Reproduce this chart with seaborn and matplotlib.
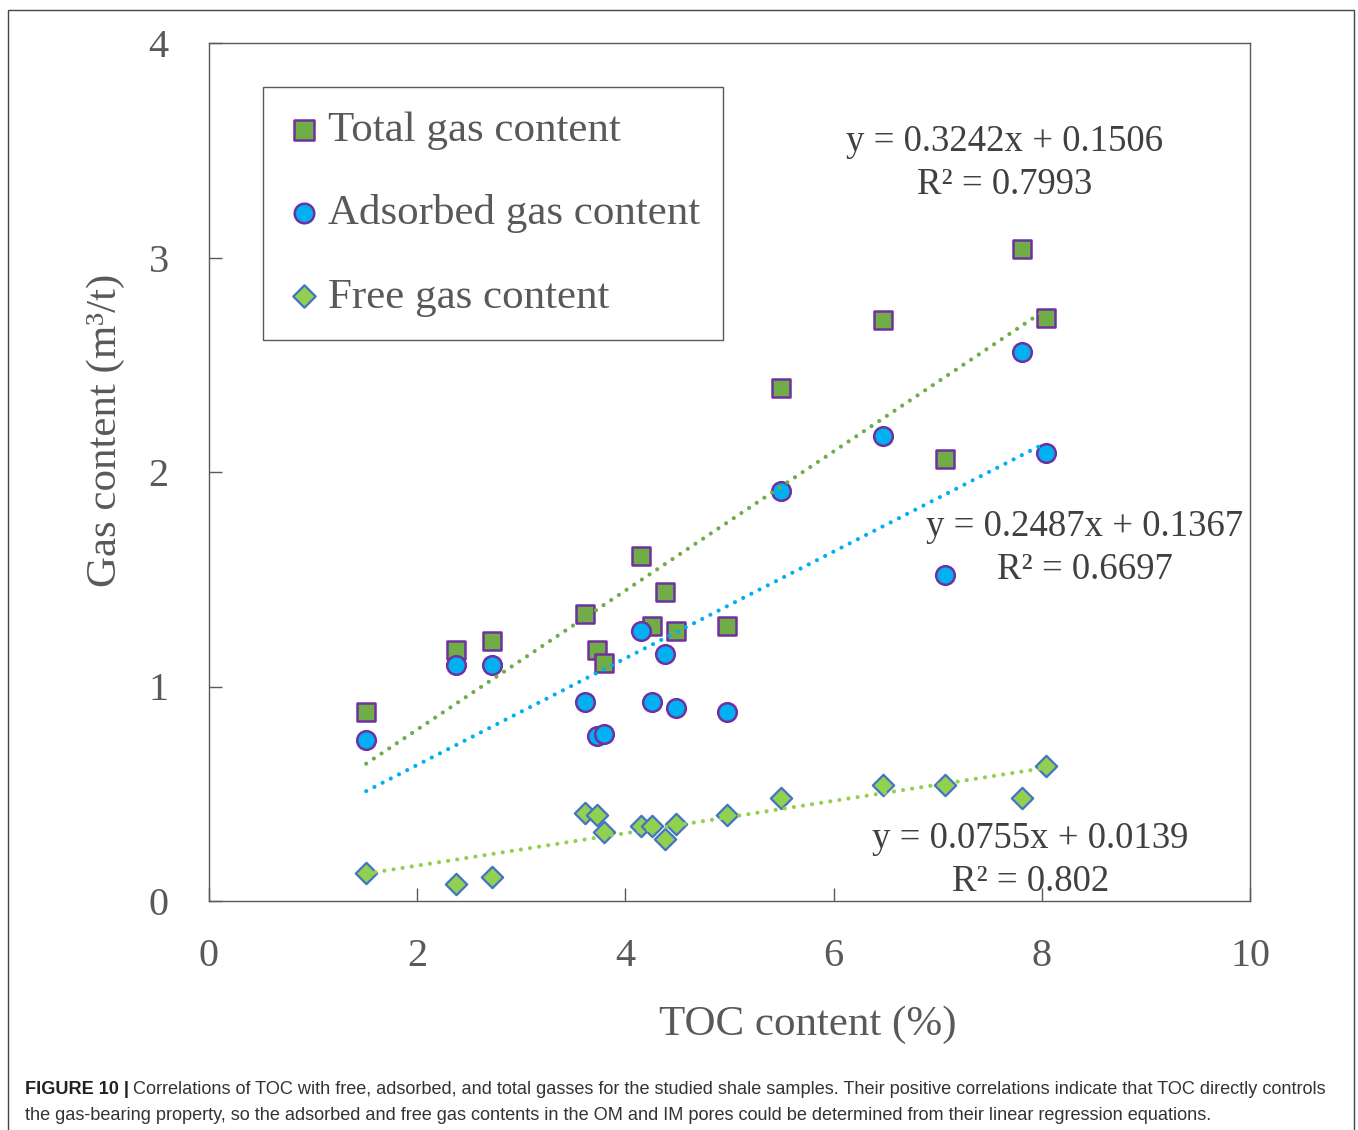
import numpy as np
import pandas as pd
import seaborn as sns
import matplotlib.pyplot as plt
from matplotlib.patches import Rectangle

# TOC (%) of the studied shale samples and their gas contents (m3/t)
toc = [1.51, 2.37, 2.72, 3.61, 3.73, 3.79, 4.15, 4.26, 4.38, 4.49, 4.98, 5.49, 6.47, 7.07, 7.81, 8.04]
total_gas = [0.88, 1.17, 1.21, 1.34, 1.17, 1.11, 1.61, 1.28, 1.44, 1.26, 1.28, 2.39, 2.71, 2.06, 3.04, 2.72]
adsorbed_gas = [0.75, 1.10, 1.10, 0.93, 0.77, 0.78, 1.26, 0.93, 1.15, 0.90, 0.88, 1.91, 2.17, 1.52, 2.56, 2.09]
free_gas = [0.13, 0.08, 0.11, 0.41, 0.40, 0.32, 0.35, 0.35, 0.29, 0.36, 0.40, 0.48, 0.54, 0.54, 0.48, 0.63]

series_names = ["Total gas content", "Adsorbed gas content", "Free gas content"]

# linear regression results for each series
slopes = [0.3242, 0.2487, 0.0755]
intercepts = [0.1506, 0.1367, 0.0139]
r_squared = ["0.7993", "0.6697", "0.802"]

x_ticks = [0, 2, 4, 6, 8, 10]
y_ticks = [0, 1, 2, 3, 4]

caption_head = "FIGURE 10 |"
caption_line1 = ("Correlations of TOC with free, adsorbed, and total gasses for the studied shale samples. "
                 "Their positive correlations indicate that TOC directly controls")
caption_line2 = ("the gas-bearing property, so the adsorbed and free gas contents in the OM and IM pores "
                 "could be determined from their linear regression equations.")

df = pd.DataFrame({"toc": toc, "total": total_gas, "adsorbed": adsorbed_gas, "free": free_gas})

sns.set_style("ticks")
plt.rcParams["font.family"] = ["Liberation Serif", "DejaVu Serif"]

W, H = 1358, 1130
fig = plt.figure(figsize=(W / 100, H / 100), dpi=100)
fig.patch.set_facecolor("white")
ax = fig.add_axes([209 / W, 1 - 901 / H, (1250 - 209) / W, (901 - 43) / H])

grey = "#595959"
text_grey = "#595959"

marker_styles = [
    dict(marker="s", s=170, color="#70AD47", edgecolor="#7030A0", linewidth=1.8),
    dict(marker="o", s=180, color="#00B0F0", edgecolor="#7030A0", linewidth=1.8),
    dict(marker="D", s=118, color="#92D050", edgecolor="#4472C4", linewidth=1.6),
]
line_colors = ["#70AD47", "#00B0F0", "#92D050"]

for col, name, st in zip(["total", "adsorbed", "free"], series_names, marker_styles):
    sns.scatterplot(data=df, x="toc", y=col, ax=ax, label=name, zorder=3, **st)

# dotted trendlines over the sampled TOC range
x_fit = np.array([min(toc), max(toc)])
for m, b, c in zip(slopes, intercepts, line_colors):
    sns.lineplot(x=x_fit, y=m * x_fit + b, ax=ax, color=c, lw=3.0,
                 linestyle=(0, (0.01, 2.2)), dash_capstyle="round",
                 zorder=4, legend=False)

# regression equations
eq_pos = [(7.64, 3.54, 3.34), (8.41, 1.745, 1.545), (7.89, 0.29, 0.09)]
for (xc, y1, y2), m, b, r2 in zip(eq_pos, slopes, intercepts, r_squared):
    ax.text(xc, y1, f"y = {m:.4f}x + {b:.4f}", ha="center", va="center",
            fontsize=26.5, color="#404040", zorder=5)
    ax.text(xc, y2, f"R² = {r2}", ha="center", va="center",
            fontsize=26.5, color="#404040", zorder=5)

ax.set_xlim(0, 10)
ax.set_ylim(0, 4)
ax.set_xticks(x_ticks)
ax.set_yticks(y_ticks)
ax.set_xticklabels([str(t) for t in x_ticks])
ax.set_yticklabels([str(t) for t in y_ticks])
ax.tick_params(direction="in", length=9.5, width=1.0, color=grey,
               labelsize=29, labelcolor=text_grey)
ax.tick_params(axis="x", pad=27)
ax.tick_params(axis="y", pad=29)
for sp in ax.spines.values():
    sp.set_visible(True)
    sp.set_color(grey)
    sp.set_linewidth(1.0)

ax.set_xlabel("TOC content (%)", fontsize=31, color=text_grey)
ax.xaxis.set_label_coords((808 - 209) / 1041, -0.122)
ax.set_ylabel("")
fig.text(106 / W, 1 - 430 / H, "Gas content (m³/t)", rotation=90, ha="center", va="center",
         fontsize=31, color=text_grey)

leg = ax.legend(loc="upper left", bbox_to_anchor=((263 - 209) / 1041, (901 - 87) / 858),
                borderaxespad=0, frameon=True, fancybox=False, framealpha=1,
                fontsize=31, handletextpad=0.15, handlelength=0.8, labelspacing=1.03,
                borderpad=0.55, markerscale=1.05, edgecolor=grey)
leg.get_frame().set_linewidth(1.0)
for t in leg.get_texts():
    t.set_color(text_grey)

# caption
cap_font = ["Liberation Sans", "DejaVu Sans"]
head = fig.text(25 / W, 1 - 1090 / H, caption_head, fontsize=12, fontweight="bold",
                family=cap_font, color="#222222", va="center", ha="left")
fig.canvas.draw()
r = fig.canvas.get_renderer()
hw = head.get_window_extent(r).width
body1 = fig.text((25 + hw + 4) / W, 1 - 1090 / H, caption_line1, fontsize=12,
                 family=cap_font, color="#333333", va="center", ha="left")
fig.canvas.draw()
bw = body1.get_window_extent(r).width
scale = (1328 - 25) / (hw + 4 + bw)
cap_size = 12 * scale
head.set_fontsize(cap_size)
fig.canvas.draw()
hw = head.get_window_extent(r).width
body1.set_fontsize(cap_size)
body1.set_x((25 + hw + 4) / W)
fig.text(25 / W, 1 - 1116 / H, caption_line2, fontsize=cap_size,
         family=cap_font, color="#333333", va="center", ha="left")

# page frame
fig.patches.append(Rectangle((8 / W, -0.05), (1354 - 8) / W, 1 - 10 / H + 0.05,
                             transform=fig.transFigure, fill=False,
                             edgecolor="#444444", linewidth=1.0))

fig.savefig("out.png", dpi=100, facecolor="white")
